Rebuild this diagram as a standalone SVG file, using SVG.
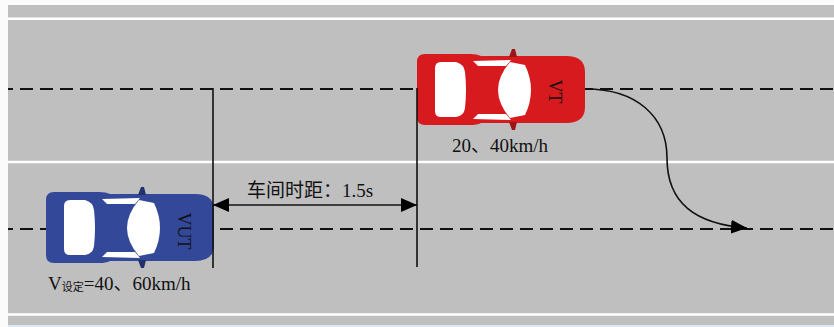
<svg xmlns="http://www.w3.org/2000/svg" width="834" height="327" viewBox="0 0 834 327">
  <defs>
    <style>
      .lane { stroke: #ffffff; stroke-width: 2.5; }
      .dash { stroke: #111111; stroke-width: 2; stroke-dasharray: 13 7; stroke-dashoffset: 8; fill: none; }
      .guide { stroke: #111111; stroke-width: 1.6; fill: none; }
      .label { font-family: "Liberation Serif", "Noto Sans CJK SC", serif; font-size: 19px; fill: #111111; }
      .tag { font-family: "Liberation Serif", "Noto Sans CJK SC", serif; font-size: 18px; fill: #111111; }
      .glass { fill: #ffffff; }
    </style>
    <marker id="head" viewBox="0 0 16 14" refX="16" refY="7" markerWidth="16" markerHeight="14" markerUnits="userSpaceOnUse" orient="auto-start-reverse">
      <path d="M0,0 L16,7 L0,14 Z" fill="#000000"/>
    </marker>
    <!-- top-view car body, drawn at the lead car's position -->
    <g id="car">
      <path d="M425,54 L470,54 Q477,54 481,56 L566,56 Q585,56 585,72 L585,107 Q585,123 566,123 L481,123 Q477,125 470,125 L425,125 Q417,125 417,117 L417,62 Q417,54 425,54 Z"/>
      <!-- rear window -->
      <path class="glass" d="M441,62 L456,62 Q464,64 465,72 Q467,90 465,108 Q464,116 456,117 L441,117 Q435,117 435,111 L435,68 Q435,62 441,62 Z"/>
      <!-- side windows -->
      <path class="glass" d="M473,61 L511,60 L506,66 L478,66 Z"/>
      <path class="glass" d="M473,119 L511,120 L506,114 L478,114 Z"/>
      <!-- windshield -->
      <path class="glass" d="M510,62 L525,65 Q537,90 525,115 L510,118 Q486,90 510,62 Z"/>
    </g>
  </defs>

  <!-- road surface -->
  <rect x="0" y="0" width="834" height="327" fill="#fbfbfb"/>
  <rect x="8" y="5" width="826" height="320" fill="#bfbfbf"/>
  <rect x="8" y="325" width="826" height="2" fill="#dde9f6"/>
  <line class="lane" x1="8" y1="18.8" x2="834" y2="18.8"/>
  <line class="lane" x1="8" y1="162" x2="834" y2="162"/>
  <line class="lane" x1="8" y1="314.5" x2="834" y2="314.5"/>
  <line class="dash" x1="8" y1="89" x2="834" y2="89"/>
  <line class="dash" x1="8" y1="229" x2="834" y2="229"/>

  <g id="vt">
    <use href="#car" fill="#d71a1e"/>
    <path d="M509,57 L512,49 L515,49 L517,57 Z M509,122 L512,130 L515,130 L517,122 Z" fill="#9e1316"/>
    <text class="tag" transform="translate(549,91.5) rotate(90)" text-anchor="middle">VT</text>
  </g>

  <g id="vut">
    <use href="#car" fill="#34489a" transform="translate(-371,138)"/>
    <path d="M138,195 L141,187 L144,187 L146,195 Z M138,260 L141,268 L144,268 L146,260 Z" fill="#22306c"/>
    <text class="tag" transform="translate(178,231) rotate(90)" text-anchor="middle">VUT</text>
  </g>

  <g id="connectors">
    <line class="guide" x1="213" y1="88" x2="213" y2="268"/>
    <line class="guide" x1="417" y1="88" x2="417" y2="267"/>
    <line class="guide" x1="213" y1="205" x2="417" y2="205" marker-start="url(#head)" marker-end="url(#head)"/>
    <path class="guide" d="M586,89 C636,89 667,116 667,158 C667,203 695,224 747,228" marker-end="url(#head)" stroke-width="1.8"/>
  </g>

  <g id="labels">
    <text class="label" x="247" y="197">车间时距：1.5s</text>
    <text class="label" x="452" y="152">20、40km/h</text>
    <text class="label" x="48" y="290">V<tspan font-size="11" dy="1">设定</tspan><tspan dy="-1">=40、60km/h</tspan></text>
  </g>
</svg>
